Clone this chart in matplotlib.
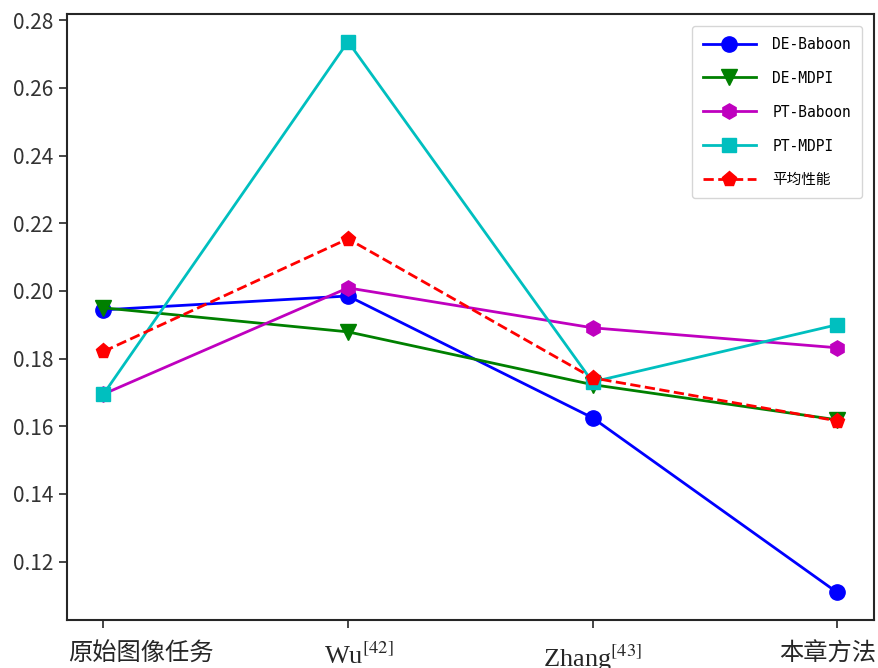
import matplotlib
matplotlib.use("Agg")
import matplotlib.pyplot as plt
from matplotlib.transforms import ScaledTranslation

plt.rcParams['font.family'] = ['Noto Sans CJK SC', 'DejaVu Sans']
plt.rcParams['mathtext.fontset'] = 'stix'
plt.rcParams['axes.edgecolor'] = '#262626'
plt.rcParams['xtick.color'] = '#262626'
plt.rcParams['ytick.color'] = '#262626'

methods = ['原始图像任务', r'Wu$^{[42]}$', r'Zhang$^{[43]}$', '本章方法']
de_baboon = [0.1944, 0.1985, 0.1625, 0.1109]
de_mdpi = [0.1950, 0.1879, 0.1723, 0.1619]
pt_baboon = [0.1695, 0.2009, 0.1891, 0.1832]
pt_mdpi = [0.1695, 0.2737, 0.1731, 0.1900]
avg_perf = [0.1821, 0.2154, 0.1743, 0.1616]

fig = plt.figure(figsize=(8.79, 6.68), dpi=100)
ax = fig.add_axes([0.076, 0.072, 0.918, 0.907])

x = range(len(methods))
ax.plot(x, de_baboon, 'b-o', lw=2, ms=11, label='DE-Baboon')
ax.plot(x, de_mdpi, 'g-v', lw=2, ms=11, label='DE-MDPI')
ax.plot(x, pt_baboon, 'm-h', lw=2, ms=11, label='PT-Baboon')
ax.plot(x, pt_mdpi, 'c-s', lw=2, ms=10, label='PT-MDPI')
ax.plot(x, avg_perf, 'r--p', lw=2, ms=11, label='平均性能')

# category labels drawn by hand so each one can be nudged sideways (pixels at 100 dpi)
ax.set_xticks(list(x))
ax.set_xticklabels([])
shifts = [37, 11, 0, -9]
for i, (name, dx) in enumerate(zip(methods, shifts)):
    if '$' in name:
        off = ScaledTranslation(dx / 100, -23 / 100, fig.dpi_scale_trans)
        ax.text(i, 0, name, transform=ax.get_xaxis_transform() + off, ha='center', va='top',
                fontsize=19, family='Liberation Serif', color='#262626')
    else:
        off = ScaledTranslation(dx / 100, -21 / 100, fig.dpi_scale_trans)
        ax.text(i, 0, name, transform=ax.get_xaxis_transform() + off, ha='center', va='top',
                fontsize=17.5, color='#262626')

ax.tick_params(axis='x', length=6, width=1.2)
ax.tick_params(axis='y', length=6, width=1.2, labelsize=15, labelcolor='#333333')
for sp in ax.spines.values():
    sp.set_linewidth(1.5)

leg = ax.legend(loc='upper right', prop={'family': ['DejaVu Sans Mono', 'Noto Sans CJK SC'], 'size': 10.5},
                labelspacing=1.3, handlelength=3.6, borderpad=0.75, handletextpad=1.15,
                borderaxespad=0.8)

fig.savefig('out.png', dpi=100)
